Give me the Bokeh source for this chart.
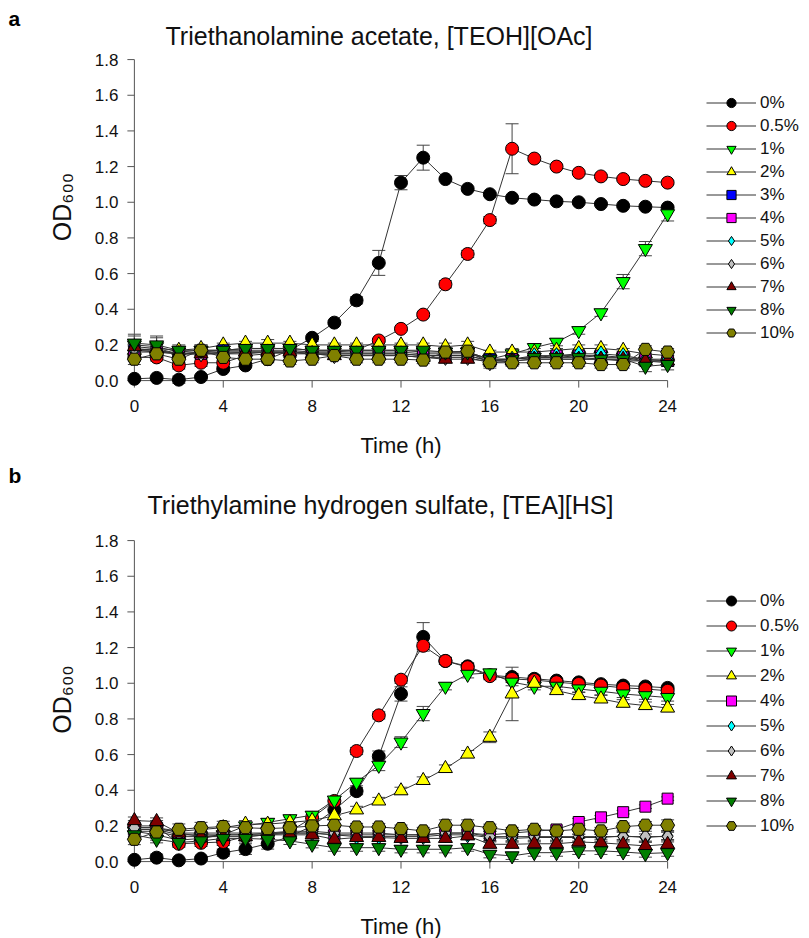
from bokeh.plotting import figure
from bokeh.models import (ColumnDataSource, Range1d, Whisker, TeeHead, Legend,
                          LegendItem, Title, Label, FixedTicker, PrintfTickFormatter)
from bokeh.layouts import column
from bokeh.embed import file_html
from bokeh.resources import INLINE

FONT = "Liberation Sans"

hours = list(range(25))
x_ticks = [0, 4, 8, 12, 16, 20, 24]
y_ticks = [0.0, 0.2, 0.4, 0.6, 0.8, 1.0, 1.2, 1.4, 1.6, 1.8]

# ---------------- panel a : [TEOH][OAc] ----------------
teoh_levels = ["0%", "0.5%", "1%", "2%", "3%", "4%", "5%", "6%", "7%", "8%", "10%"]
teoh_0 = [0.01, 0.015, 0.005, 0.02, 0.065, 0.085, 0.12, 0.17, 0.24, 0.325, 0.45, 0.66, 1.11, 1.25, 1.13, 1.075, 1.045, 1.025, 1.015, 1.005, 1.0, 0.99, 0.98, 0.975, 0.97]
teoh_05 = [0.13, 0.13, 0.085, 0.10, 0.10, 0.14, 0.15, 0.16, 0.16, 0.16, 0.17, 0.225, 0.29, 0.37, 0.54, 0.71, 0.90, 1.30, 1.245, 1.20, 1.165, 1.145, 1.13, 1.12, 1.11]
teoh_1 = [0.20, 0.19, 0.16, 0.17, 0.17, 0.18, 0.18, 0.18, 0.17, 0.17, 0.17, 0.17, 0.17, 0.16, 0.16, 0.16, 0.12, 0.15, 0.185, 0.215, 0.28, 0.38, 0.555, 0.74, 0.935]
teoh_2 = [0.17, 0.18, 0.17, 0.18, 0.20, 0.21, 0.21, 0.21, 0.20, 0.20, 0.20, 0.20, 0.20, 0.20, 0.19, 0.20, 0.16, 0.16, 0.16, 0.17, 0.18, 0.18, 0.17, 0.15, 0.14]
teoh_3 = [0.17, 0.16, 0.15, 0.16, 0.17, 0.17, 0.17, 0.17, 0.16, 0.16, 0.16, 0.16, 0.16, 0.15, 0.15, 0.15, 0.12, 0.12, 0.13, 0.13, 0.14, 0.13, 0.13, 0.11, 0.11]
teoh_4 = [0.16, 0.16, 0.15, 0.15, 0.16, 0.16, 0.16, 0.16, 0.15, 0.15, 0.15, 0.15, 0.15, 0.14, 0.14, 0.14, 0.11, 0.12, 0.13, 0.14, 0.14, 0.14, 0.13, 0.12, 0.11]
teoh_5 = [0.17, 0.17, 0.15, 0.16, 0.16, 0.16, 0.16, 0.16, 0.15, 0.15, 0.15, 0.15, 0.15, 0.14, 0.14, 0.14, 0.11, 0.12, 0.14, 0.14, 0.15, 0.15, 0.14, 0.12, 0.12]
teoh_6 = [0.18, 0.17, 0.15, 0.15, 0.15, 0.15, 0.16, 0.15, 0.15, 0.14, 0.14, 0.14, 0.14, 0.13, 0.13, 0.13, 0.10, 0.11, 0.12, 0.12, 0.12, 0.12, 0.11, 0.11, 0.10]
teoh_7 = [0.19, 0.18, 0.15, 0.15, 0.15, 0.16, 0.16, 0.16, 0.15, 0.14, 0.14, 0.14, 0.14, 0.13, 0.12, 0.12, 0.11, 0.11, 0.12, 0.12, 0.12, 0.12, 0.12, 0.11, 0.11]
teoh_8 = [0.21, 0.20, 0.17, 0.17, 0.17, 0.18, 0.18, 0.18, 0.17, 0.17, 0.17, 0.17, 0.17, 0.17, 0.16, 0.16, 0.12, 0.12, 0.13, 0.13, 0.13, 0.12, 0.12, 0.08, 0.09]
teoh_10 = [0.12, 0.15, 0.12, 0.17, 0.13, 0.12, 0.12, 0.11, 0.12, 0.14, 0.12, 0.12, 0.12, 0.115, 0.16, 0.165, 0.10, 0.10, 0.10, 0.10, 0.10, 0.09, 0.09, 0.175, 0.16]

teoh_0_err = [0.01, 0.01, 0.02, 0.01, 0.01, 0.01, 0.01, 0.01, 0.01, 0.01, 0.02, 0.07, 0.04, 0.07, 0.01, 0.01, 0.01, 0.01, 0.01, 0.01, 0.01, 0.01, 0.01, 0.01, 0.01]
teoh_05_err = [0.02, 0.02, 0.02, 0.02, 0.02, 0.01, 0.01, 0.01, 0.01, 0.01, 0.01, 0.01, 0.01, 0.01, 0.02, 0.02, 0.02, 0.14, 0.01, 0.01, 0.01, 0.01, 0.01, 0.01, 0.01]
teoh_1_err = [0.05, 0.05, 0.03, 0.02, 0.02, 0.02, 0.02, 0.02, 0.02, 0.02, 0.02, 0.02, 0.02, 0.02, 0.02, 0.02, 0.02, 0.02, 0.02, 0.02, 0.02, 0.02, 0.04, 0.04, 0.04]
teoh_2_err = [0.02, 0.03, 0.02, 0.02, 0.01, 0.01, 0.02, 0.01, 0.02, 0.01, 0.01, 0.02, 0.01, 0.01, 0.02, 0.02, 0.01, 0.02, 0.02, 0.01, 0.02, 0.02, 0.01, 0.02, 0.02]
teoh_3_err = [0.03, 0.02, 0.02, 0.02, 0.02, 0.02, 0.02, 0.02, 0.01, 0.01, 0.02, 0.02, 0.02, 0.02, 0.02, 0.02, 0.02, 0.02, 0.02, 0.02, 0.02, 0.02, 0.02, 0.02, 0.02]
teoh_4_err = [0.02, 0.02, 0.02, 0.02, 0.02, 0.02, 0.02, 0.01, 0.02, 0.02, 0.02, 0.02, 0.01, 0.02, 0.02, 0.02, 0.02, 0.02, 0.02, 0.02, 0.02, 0.02, 0.02, 0.02, 0.03]
teoh_5_err = [0.02, 0.02, 0.02, 0.02, 0.02, 0.02, 0.01, 0.02, 0.02, 0.02, 0.02, 0.02, 0.02, 0.02, 0.02, 0.02, 0.02, 0.02, 0.02, 0.03, 0.02, 0.02, 0.02, 0.03, 0.03]
teoh_6_err = [0.03, 0.03, 0.02, 0.02, 0.02, 0.02, 0.02, 0.02, 0.02, 0.02, 0.02, 0.02, 0.02, 0.02, 0.02, 0.02, 0.02, 0.02, 0.02, 0.02, 0.02, 0.02, 0.02, 0.02, 0.02]
teoh_7_err = [0.02, 0.02, 0.02, 0.02, 0.02, 0.02, 0.02, 0.02, 0.02, 0.02, 0.02, 0.02, 0.02, 0.02, 0.02, 0.02, 0.02, 0.02, 0.02, 0.02, 0.02, 0.02, 0.02, 0.02, 0.02]
teoh_8_err = [0.05, 0.05, 0.03, 0.03, 0.02, 0.02, 0.02, 0.02, 0.02, 0.02, 0.02, 0.02, 0.02, 0.02, 0.02, 0.02, 0.02, 0.02, 0.02, 0.02, 0.02, 0.02, 0.03, 0.03, 0.03]
teoh_10_err = [0.03, 0.03, 0.02, 0.02, 0.02, 0.02, 0.02, 0.02, 0.02, 0.02, 0.02, 0.02, 0.02, 0.02, 0.02, 0.02, 0.03, 0.02, 0.02, 0.02, 0.02, 0.02, 0.02, 0.02, 0.02]

# ---------------- panel b : [TEA][HS] ----------------
tea_levels = ["0%", "0.5%", "1%", "2%", "4%", "5%", "6%", "7%", "8%", "10%"]
tea_0 = [0.01, 0.022, 0.007, 0.017, 0.05, 0.07, 0.10, 0.14, 0.20, 0.29, 0.395, 0.59, 0.94, 1.26, 1.125, 1.095, 1.045, 1.035, 1.025, 1.015, 1.005, 0.995, 0.987, 0.982, 0.974]
tea_05 = [0.20, 0.20, 0.10, 0.105, 0.11, 0.14, 0.15, 0.17, 0.245, 0.34, 0.62, 0.82, 1.02, 1.21, 1.125, 1.09, 1.04, 1.024, 1.018, 1.006, 0.996, 0.987, 0.974, 0.968, 0.958]
tea_1 = [0.17, 0.15, 0.12, 0.13, 0.15, 0.20, 0.22, 0.24, 0.26, 0.345, 0.445, 0.54, 0.67, 0.83, 0.983, 1.05, 1.058, 1.006, 0.983, 0.983, 0.968, 0.955, 0.94, 0.93, 0.92]
tea_2 = [0.19, 0.19, 0.17, 0.18, 0.19, 0.21, 0.21, 0.22, 0.23, 0.257, 0.29, 0.34, 0.397, 0.455, 0.522, 0.603, 0.697, 0.94, 1.0, 0.959, 0.931, 0.912, 0.888, 0.875, 0.861]
tea_4 = [0.17, 0.17, 0.14, 0.14, 0.15, 0.15, 0.15, 0.16, 0.16, 0.15, 0.15, 0.15, 0.15, 0.15, 0.16, 0.16, 0.15, 0.16, 0.17, 0.18, 0.222, 0.248, 0.277, 0.308, 0.353]
tea_5 = [0.18, 0.18, 0.15, 0.15, 0.15, 0.15, 0.16, 0.16, 0.16, 0.15, 0.14, 0.14, 0.14, 0.14, 0.15, 0.15, 0.135, 0.13, 0.135, 0.135, 0.135, 0.135, 0.144, 0.135, 0.144]
tea_6 = [0.19, 0.19, 0.16, 0.16, 0.16, 0.16, 0.16, 0.17, 0.17, 0.16, 0.16, 0.16, 0.15, 0.15, 0.16, 0.16, 0.14, 0.14, 0.14, 0.14, 0.14, 0.14, 0.14, 0.14, 0.14]
tea_7 = [0.23, 0.225, 0.16, 0.14, 0.14, 0.14, 0.15, 0.15, 0.15, 0.125, 0.135, 0.135, 0.13, 0.13, 0.13, 0.144, 0.097, 0.097, 0.10, 0.10, 0.11, 0.105, 0.097, 0.088, 0.097]
tea_8 = [0.15, 0.125, 0.107, 0.116, 0.13, 0.13, 0.125, 0.116, 0.097, 0.078, 0.078, 0.078, 0.069, 0.069, 0.069, 0.078, 0.041, 0.032, 0.05, 0.05, 0.06, 0.06, 0.054, 0.045, 0.05]
tea_10 = [0.125, 0.166, 0.181, 0.19, 0.196, 0.19, 0.185, 0.19, 0.2, 0.204, 0.194, 0.194, 0.185, 0.172, 0.204, 0.204, 0.19, 0.172, 0.181, 0.172, 0.181, 0.172, 0.196, 0.204, 0.204]

tea_0_err = [0.01, 0.02, 0.01, 0.01, 0.02, 0.03, 0.03, 0.02, 0.02, 0.03, 0.02, 0.03, 0.04, 0.08, 0.02, 0.02, 0.02, 0.02, 0.02, 0.01, 0.01, 0.01, 0.01, 0.01, 0.01]
tea_05_err = [0.03, 0.03, 0.02, 0.02, 0.02, 0.02, 0.02, 0.02, 0.02, 0.02, 0.02, 0.02, 0.02, 0.02, 0.02, 0.02, 0.02, 0.02, 0.01, 0.01, 0.01, 0.01, 0.01, 0.01, 0.01]
tea_1_err = [0.03, 0.03, 0.02, 0.02, 0.02, 0.02, 0.02, 0.02, 0.02, 0.02, 0.02, 0.03, 0.03, 0.04, 0.02, 0.02, 0.02, 0.02, 0.02, 0.02, 0.02, 0.02, 0.02, 0.02, 0.02]
tea_2_err = [0.02, 0.02, 0.02, 0.02, 0.02, 0.02, 0.03, 0.03, 0.02, 0.02, 0.02, 0.02, 0.02, 0.02, 0.02, 0.02, 0.03, 0.15, 0.02, 0.02, 0.02, 0.02, 0.02, 0.02, 0.02]
tea_4_err = [0.02, 0.02, 0.02, 0.02, 0.02, 0.02, 0.02, 0.02, 0.02, 0.02, 0.02, 0.02, 0.02, 0.02, 0.02, 0.02, 0.02, 0.02, 0.02, 0.02, 0.02, 0.01, 0.01, 0.01, 0.01]
tea_5_err = [0.02, 0.02, 0.02, 0.02, 0.02, 0.02, 0.02, 0.02, 0.02, 0.02, 0.02, 0.02, 0.02, 0.02, 0.02, 0.02, 0.02, 0.02, 0.02, 0.02, 0.02, 0.02, 0.02, 0.02, 0.02]
tea_6_err = [0.03, 0.03, 0.03, 0.03, 0.03, 0.03, 0.03, 0.03, 0.03, 0.03, 0.03, 0.03, 0.03, 0.03, 0.03, 0.03, 0.03, 0.03, 0.03, 0.03, 0.03, 0.03, 0.03, 0.03, 0.03]
tea_7_err = [0.02, 0.02, 0.02, 0.02, 0.02, 0.02, 0.02, 0.02, 0.02, 0.02, 0.02, 0.02, 0.02, 0.02, 0.02, 0.02, 0.02, 0.02, 0.02, 0.02, 0.02, 0.02, 0.02, 0.02, 0.02]
tea_8_err = [0.02, 0.02, 0.02, 0.02, 0.02, 0.02, 0.02, 0.02, 0.02, 0.02, 0.02, 0.02, 0.02, 0.02, 0.02, 0.02, 0.02, 0.02, 0.02, 0.02, 0.02, 0.02, 0.02, 0.02, 0.02]
tea_10_err = [0.03, 0.03, 0.03, 0.03, 0.03, 0.03, 0.03, 0.03, 0.03, 0.03, 0.02, 0.02, 0.02, 0.02, 0.03, 0.03, 0.02, 0.02, 0.02, 0.02, 0.03, 0.02, 0.02, 0.02, 0.03]

teoh_values = [teoh_0, teoh_05, teoh_1, teoh_2, teoh_3, teoh_4, teoh_5, teoh_6, teoh_7, teoh_8, teoh_10]
teoh_errors = [teoh_0_err, teoh_05_err, teoh_1_err, teoh_2_err, teoh_3_err, teoh_4_err,
               teoh_5_err, teoh_6_err, teoh_7_err, teoh_8_err, teoh_10_err]
tea_values = [tea_0, tea_05, tea_1, tea_2, tea_4, tea_5, tea_6, tea_7, tea_8, tea_10]
tea_errors = [tea_0_err, tea_05_err, tea_1_err, tea_2_err, tea_4_err, tea_5_err,
              tea_6_err, tea_7_err, tea_8_err, tea_10_err]

# style per concentration: marker, fill colour, size (px)
STYLE = {
    "0%": ("circle", "#000000", 13),
    "0.5%": ("circle", "#FF0000", 13),
    "1%": ("inverted_triangle", "#00FF00", 14),
    "2%": ("triangle", "#FFFF00", 14),
    "3%": ("square", "#0000FF", 11),
    "4%": ("square", "#FF00FF", 11),
    "5%": ("diamond", "#00FFFF", 16),
    "6%": ("diamond", "#C0C0C0", 16),
    "7%": ("triangle", "#7F0000", 14),
    "8%": ("inverted_triangle", "#007F00", 14),
    "10%": ("hex", "#808000", 14),
}

AXIS_COLOR = "#555555"
X_PAD = 0.4           # hours of padding each side of the frame
Y_LO = -0.05
PX_PER_UNIT = 178.33  # vertical scale shared by both panels
FRAME_W = 551
TICK_PX = 7


def make_panel(letter, title, levels, values, errors, fig_h, top_border, frame_h,
               letter_standoff, title_mode, title_pos, legend_vy, legend_row):
    y_hi = frame_h / PX_PER_UNIT + Y_LO
    p = figure(frame_width=FRAME_W, frame_height=frame_h,
               min_border_left=125, min_border_right=133,
               min_border_top=top_border, min_border_bottom=fig_h - top_border - frame_h,
               x_range=Range1d(-X_PAD, 24 + X_PAD), y_range=Range1d(Y_LO, y_hi),
               output_backend="svg", toolbar_location=None)
    p.background_fill_color = "white"
    p.border_fill_color = "white"
    p.outline_line_color = None
    p.grid.grid_line_color = None

    letter_title = Title(text=letter, align="left", offset=-117, text_font=FONT,
                         text_font_size="21px", text_font_style="bold",
                         text_color="#000000", standoff=letter_standoff)
    if title_mode == "label":
        # heading drawn inside the (taller) frame, panel letter as plot title
        p.title = letter_title
        p.add_layout(Label(x=title_pos[0], y=title_pos[1], x_units="screen",
                           y_units="screen", text=title, text_font=FONT,
                           text_font_size="25px", text_color="#111111",
                           text_baseline="alphabetic", text_align="left"))
    else:
        # heading nearest the frame, panel letter stacked above it
        heading = Title(text=title, align="left", offset=title_pos[0], text_font=FONT,
                        text_font_size="25px", text_font_style="normal",
                        text_color="#111111", standoff=title_pos[1])
        p.add_layout(heading, "above")
        p.add_layout(letter_title, "above")

    # real axes carry the tick labels and axis titles
    for ax in (p.xaxis[0], p.yaxis[0]):
        ax.axis_line_color = None
        ax.major_tick_line_color = None
        ax.major_tick_in = 0
        ax.major_tick_out = 0
        ax.minor_tick_line_color = None
        ax.major_label_text_font = FONT
        ax.major_label_text_font_size = "17px"
        ax.major_label_text_color = "#111111"
        ax.axis_label_text_font = FONT
        ax.axis_label_text_font_style = "normal"
        ax.axis_label_text_color = "#111111"
    p.xaxis.ticker = FixedTicker(ticks=x_ticks)
    p.yaxis.ticker = FixedTicker(ticks=y_ticks)
    p.yaxis.formatter = PrintfTickFormatter(format="%.1f")
    p.xaxis.axis_label = "Time (h)"
    p.yaxis.axis_label = "OD\u2086\u2080\u2080"
    p.xaxis.axis_label_text_font_size = "22px"
    p.yaxis.axis_label_text_font_size = "25px"
    p.xaxis.major_label_standoff = 10
    p.yaxis.major_label_standoff = 7
    p.xaxis.axis_label_standoff = 18
    p.yaxis.axis_label_standoff = 16

    # axis lines and tick marks at x = 0 and y = 0 (SigmaPlot style)
    dx = TICK_PX * (24 + 2 * X_PAD) / FRAME_W
    dy = TICK_PX / PX_PER_UNIT
    p.segment(x0=[0, 0], y0=[0, 0], x1=[0, 24], y1=[1.8, 0],
              line_color=AXIS_COLOR, line_width=1)
    p.segment(x0=[-dx] * len(y_ticks), y0=y_ticks, x1=[0] * len(y_ticks), y1=y_ticks,
              line_color=AXIS_COLOR, line_width=1)
    p.segment(x0=x_ticks, y0=[-dy] * len(x_ticks), x1=x_ticks, y1=[0] * len(x_ticks),
              line_color=AXIS_COLOR, line_width=1)

    items = []
    for lev, vals, errs in zip(levels, values, errors):
        marker, color, size = STYLE[lev]
        src = ColumnDataSource(dict(
            t=hours, od=vals,
            upper=[v + e for v, e in zip(vals, errs)],
            lower=[v - e for v, e in zip(vals, errs)]))
        w = Whisker(source=src, base="t", upper="upper", lower="lower",
                    dimension="height", line_color="#444444", line_width=1,
                    upper_head=TeeHead(size=13, line_color="#444444", line_width=1),
                    lower_head=TeeHead(size=13, line_color="#444444", line_width=1))
        p.add_layout(w)
        ln = p.line("t", "od", source=src, line_color="#333333", line_width=1)
        sc = p.scatter("t", "od", source=src, marker=marker, size=size,
                       fill_color=color, line_color="#000000", line_width=1)
        items.append(LegendItem(label=lev, renderers=[ln, sc]))

    legend = Legend(items=items, location=(30, legend_vy),
                    glyph_width=50, glyph_height=legend_row, label_height=legend_row,
                    spacing=0, padding=0, margin=0, label_standoff=4,
                    label_text_font=FONT, label_text_font_size="17px",
                    label_text_color="#111111",
                    border_line_color=None, background_fill_alpha=0)
    p.add_layout(legend, "right")
    return p


# panel a: figure 458 px tall, frame 24..389
pa = make_panel("a", "Triethanolamine acetate, [TEOH][OAc]", teoh_levels,
                teoh_values, teoh_errors, fig_h=458, top_border=24, frame_h=365,
                letter_standoff=-10, title_mode="label", title_pos=(40, 354),
                legend_vy=45, legend_row=23)
# panel b: figure 480 px tall, frame 68..410 (page 526..868)
pb = make_panel("b", "Triethylamine hydrogen sulfate, [TEA][HS]", tea_levels,
                tea_values, tea_errors, fig_h=480, top_border=68, frame_h=342,
                letter_standoff=-17, title_mode="title", title_pos=(22, 20),
                legend_vy=32, legend_row=25)

layout = column(pa, pb, spacing=0)
open("out.html", "w").write(file_html(layout, INLINE))
